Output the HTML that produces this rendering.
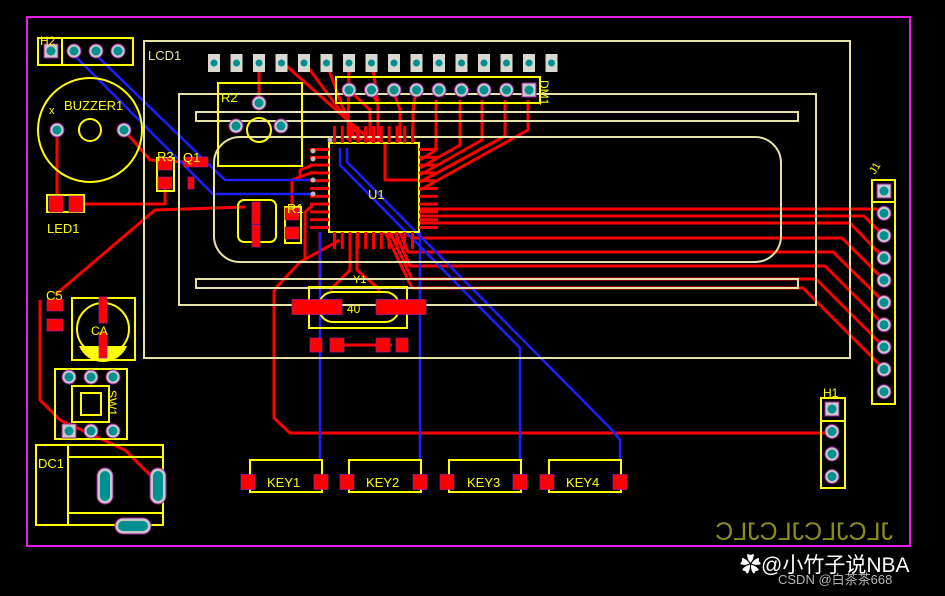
<!DOCTYPE html>
<html><head><meta charset="utf-8"><style>
html,body{margin:0;padding:0;background:#000;}
svg{display:block}
text{font-family:"Liberation Sans","Noto Sans CJK SC",sans-serif;}
</style></head><body>
<svg id="s" width="945" height="596" viewBox="0 0 945 596" xmlns="http://www.w3.org/2000/svg">
<rect width="945" height="596" fill="#000"/>
<rect x="27" y="17" width="883" height="529" fill="none" stroke="#e61ee6" stroke-width="2"/>

<g id="red" fill="none" stroke="#ff0000" stroke-width="3" stroke-linejoin="round">
<polyline points="420,209 876,209 884,213"/>
<polyline points="420,216 864,216 884,236"/>
<polyline points="420,223 850,223 884,258"/>
<polyline points="405,232 412,238 842,238 884,280"/>
<polyline points="400,232 408,252 833,252 884,302"/>
<polyline points="395,232 410,266 825,266 884,325"/>
<polyline points="390,232 412,279 816,279 884,347"/>
<polyline points="385,232 412,288 803,288 884,369"/>
<polyline points="274,290 274,418 290,433 832,433"/>
<polyline points="274,290 300,262 340,240"/>
<polyline points="55,295 155,210 245,207"/>
<polyline points="84,204 165,204 165,182"/>
<polyline points="57,130 57,203"/>
<polyline points="124,130 150,160 200,163"/>
<polyline points="40,300 40,400 60,420 125,450 155,480"/>
<polyline points="320,232 320,290"/>
<polyline points="350,232 350,270 330,290"/>
<polyline points="357,232 357,270 380,290"/>
<polyline points="330,345 392,345"/>
<polyline points="300,180 300,170 313,165"/>
<polyline points="292,214 292,180 313,172"/>
<polyline points="313,205 305,212 305,262"/>
<polyline points="420,160 436,150 436,100"/>
<polyline points="259,62 259,103"/>
<polyline points="420,168 460,145 460,100"/>
<polyline points="420,175 482,140 482,100"/>
<polyline points="420,182 505,136 505,100"/>
<polyline points="420,190 528,130 528,100"/>
<polyline points="385,143 385,180 420,180"/>
<polyline points="370,143 370,110 349,90"/>
<polyline points="378,143 378,105 371,90"/>
<polyline points="400,143 400,110 393,90"/>
<polyline points="413,143 413,110 416,90"/>
<polyline points="282,62 370,140"/>
<polyline points="304,62 362,140"/>
<polyline points="326,62 355,140"/>
<polyline points="349,62 348,140"/>
<polyline points="372,62 378,105"/>
</g>
<g fill="none" stroke="#1e1eff" stroke-width="2.5">
<polyline points="74,55 213,194 313,194"/>
<polyline points="96,55 225,180 313,180"/>
<polyline points="340,148 340,165 520,348 520,460"/>
<polyline points="347,148 347,162 612,430 620,440 620,460"/>
<polyline points="320,232 320,460"/>
<polyline points="420,232 420,460"/>
</g>

<g fill="none" stroke="#e6e2a8" stroke-width="2">
<rect x="144" y="41" width="706" height="317"/>
<rect x="179" y="94" width="637" height="211"/>
<rect x="196" y="112" width="602" height="9"/>
<rect x="196" y="279" width="602" height="9"/>
<rect x="214" y="137" width="567" height="125" rx="26"/>
</g>
<text x="148" y="60" fill="#e6e2a8" font-size="13">LCD1</text>

<g fill="none" stroke="#ffff00" stroke-width="2">
<rect x="38" y="38" width="95" height="27"/><line x1="62" y1="38" x2="62" y2="65"/>
<circle cx="90" cy="130" r="52"/><circle cx="90" cy="130" r="11"/>
<rect x="47" y="195" width="37" height="17"/>
<rect x="218" y="83" width="84" height="83"/>
<circle cx="259" cy="130" r="12"/>
<rect x="329" y="143" width="90" height="89"/>
<rect x="336" y="77" width="204" height="26"/>
<rect x="309" y="287" width="98" height="41"/>
<rect x="319" y="292" width="80" height="30" rx="14"/>
<rect x="72" y="298" width="63" height="62"/>
<circle cx="103" cy="329" r="26"/>
<rect x="55" y="369" width="72" height="70"/>
<rect x="72" y="386" width="37" height="36"/>
<rect x="81" y="393" width="20" height="22"/>
<rect x="36" y="445" width="127" height="80"/>
<line x1="68" y1="445" x2="68" y2="525"/>
<line x1="68" y1="457" x2="163" y2="457"/>
<line x1="68" y1="513" x2="163" y2="513"/>
<rect x="250" y="460" width="72" height="32"/>
<rect x="349" y="460" width="72" height="32"/>
<rect x="449" y="460" width="72" height="32"/>
<rect x="549" y="460" width="72" height="32"/>
<rect x="872" y="180" width="23" height="224"/><line x1="872" y1="202" x2="895" y2="202"/>
<rect x="821" y="398" width="24" height="90"/><line x1="821" y1="421" x2="845" y2="421"/>
<rect x="238" y="200" width="38" height="42" rx="6"/>
<rect x="285" y="207" width="16" height="36"/>
<rect x="157" y="158" width="17" height="33"/>
</g>
<path d="M79,346 A26,26 0 0 0 127,346 Z" fill="#ffff00"/>

<g id="pads"></g>

<g fill="#ffff00" font-size="13">
<text x="40" y="45" font-size="12">H2</text>
<text x="64" y="110">BUZZER1</text>
<text x="49" y="114" font-size="11">x</text>
<text x="47" y="233" font-size="13">LED1</text>
<text x="221" y="102">R2</text>
<text x="157" y="161">R3</text>
<text x="183" y="162">Q1</text>
<text x="287" y="213">R1</text>
<text x="368" y="199">U1</text>
<text x="46" y="300">C5</text>
<text x="91" y="335" font-size="12">CA</text>
<text x="38" y="468">DC1</text>
<text x="353" y="283" font-size="11">Y1</text>
<text x="347" y="313" font-size="12">40</text>
<text x="267" y="487" font-size="13">KEY1</text>
<text x="366" y="487" font-size="13">KEY2</text>
<text x="467" y="487" font-size="13">KEY3</text>
<text x="566" y="487" font-size="13">KEY4</text>
<text x="823" y="397" font-size="12">H1</text>
<text transform="translate(540,80) rotate(90)" font-size="12">DM1</text>
<text transform="translate(108,390) rotate(90)" font-size="12">SW1</text>
<text transform="translate(875,175) rotate(-60)" font-size="11">J1</text>
</g>
<text transform="translate(893,540) scale(-1,1)" fill="#8c8c1e" font-size="25">JLCJLCJLCJLC</text>

<text x="740" y="572" fill="#fff" font-size="21">✿@小竹子说NBA</text>
<text x="778" y="584" fill="#b4b4b4" font-size="13">CSDN @白茶茶668</text>
</svg>
<script>
var NS="http://www.w3.org/2000/svg",g=document.getElementById("pads");
function el(t,a){var e=document.createElementNS(NS,t);for(var k in a)e.setAttribute(k,a[k]);g.appendChild(e);return e;}
function th(x,y,sq){ if(sq)el("rect",{x:x-7,y:y-7,width:14,height:14,fill:"#c8c8c8",stroke:"#a020a0","stroke-width":1});
 else el("circle",{cx:x,cy:y,r:7,fill:"#c8c8c8",stroke:"#a020a0","stroke-width":1});
 el("circle",{cx:x,cy:y,r:4.5,fill:"#009090"});}
function rp(x,y,w,h){el("rect",{x:x-w/2,y:y-h/2,width:w,height:h,fill:"#ff0000",stroke:"#a020a0","stroke-width":0.7});}
for(var i=0;i<16;i++){var x=214+i*22.5;el("rect",{x:x-6,y:54,width:12,height:18,fill:"#d8d8d0"});el("circle",{cx:x,cy:63,r:3.5,fill:"#009090"});}
for(var i=0;i<9;i++)th(349+i*22.5,90,i==8);
th(51,51,true);th(74,51);th(96,51);th(118,51);
th(57,130);th(124,130);
th(259,103);th(236,126);th(281,126);
for(var i=0;i<10;i++)th(884,191+i*22.3,i==0);
for(var i=0;i<4;i++)th(832,409+i*22.5,i==0);
th(69,377);th(91,377);th(113,377);th(69,431,true);th(91,431);th(113,431);
function slot(x,y,w,h){el("rect",{x:x-w/2,y:y-h/2,width:w,height:h,rx:Math.min(w,h)/2,fill:"#c8c8c8",stroke:"#a020a0"});el("rect",{x:x-w/2+3,y:y-h/2+3,width:w-6,height:h-6,rx:Math.min(w,h)/2-3,fill:"#009090"});}
slot(105,486,16,36);slot(158,486,16,36);slot(133,526,36,16);
rp(56,204,14,16);rp(76,204,14,16);
rp(165,164,14,12);rp(165,183,14,12);
rp(190,162,12,10);rp(202,162,12,10);rp(191,183,6,12);
rp(292,214,14,12);rp(292,233,14,12);
rp(256,213,8,22);rp(256,236,8,22);
rp(317,307,50,15);rp(401,307,50,15);
rp(316,345,12,14);rp(337,345,14,14);rp(383,345,14,14);rp(402,345,12,14);
rp(55,305,16,12);rp(55,325,16,12);
rp(103,310,8,26);rp(103,345,8,26);
[250,349,449,549].forEach(function(x){rp(x-2,482,14,15);rp(x+71,482,14,15);});
for(var i=0;i<11;i++){var p=148+i*7.8;
 el("rect",{x:310,y:p,width:19,height:3,fill:"#ff0000"});
 el("rect",{x:419,y:p,width:19,height:3,fill:"#ff0000"});
 el("rect",{x:333+i*7.8,y:126,width:3,height:17,fill:"#ff0000"});
 el("rect",{x:333+i*7.8,y:232,width:3,height:17,fill:"#ff0000"});}
[[313,151],[313,159],[313,180],[313,194],[330,140]].forEach(function(v){el("circle",{cx:v[0],cy:v[1],r:2.5,fill:"#bbb"});});
</script>
</body></html>
